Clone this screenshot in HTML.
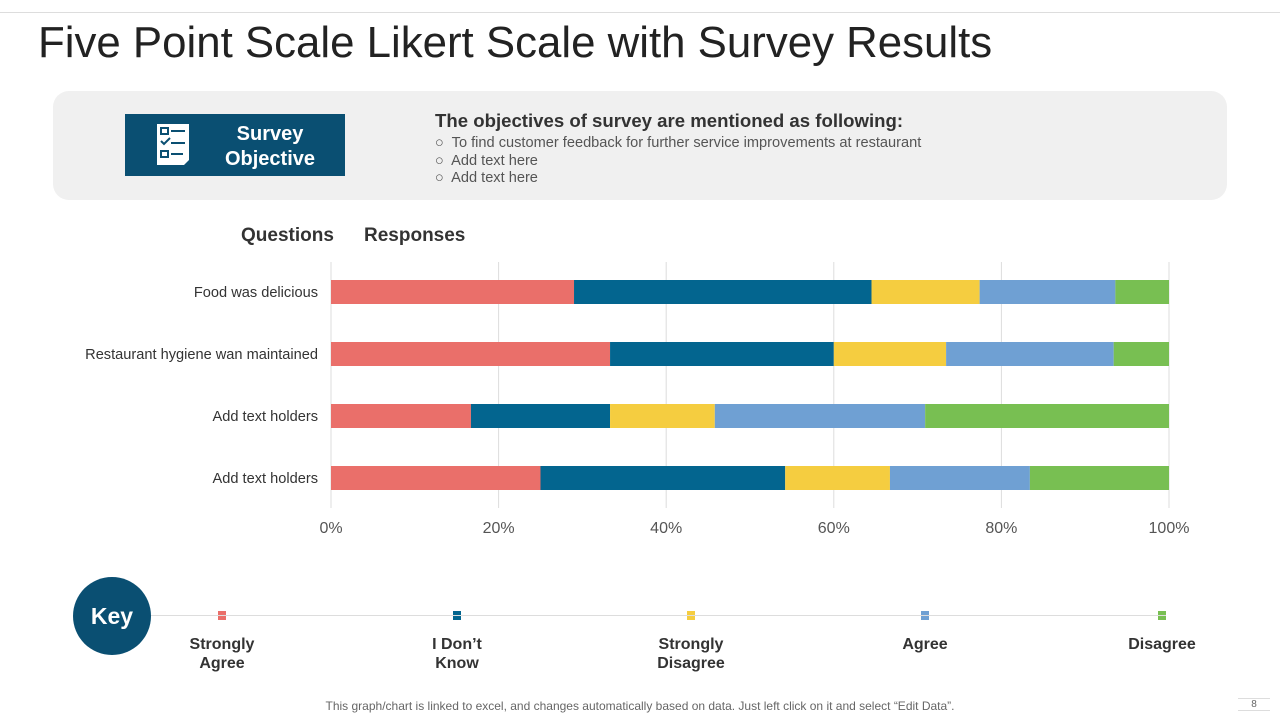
<!DOCTYPE html>
<html><head><meta charset="utf-8"><style>
body{margin:0;width:1280px;height:720px;background:#fff;font-family:"Liberation Sans",sans-serif;position:relative;overflow:hidden}
.abs{position:absolute}
</style></head><body>
<div class="abs" style="left:0;top:12px;width:1280px;height:1px;background:#ddd"></div>
<div class="abs" style="left:38px;top:18px;font-size:43.8px;color:#222;white-space:nowrap">Five Point Scale Likert Scale with Survey Results</div>
<div class="abs" style="left:53px;top:91px;width:1174px;height:109px;background:#f0f0f0;border-radius:16px"></div>
<div class="abs" style="left:125px;top:114px;width:220px;height:62px;background:#0a4f72">
<svg class="abs" style="left:32px;top:10px" width="34" height="42" viewBox="0 0 34 42"><path d="M0 0H32V36L27 41H0Z" fill="#fff"/><g fill="none" stroke="#0a4f72" stroke-width="2"><rect x="4" y="4" width="7" height="6"/><line x1="14" y1="7" x2="28" y2="7"/><path d="M4 17l3 3 6-6"/><line x1="14" y1="19" x2="28" y2="19"/><rect x="4" y="27" width="7" height="6"/><line x1="14" y1="30" x2="26" y2="30"/></g></svg>
<div class="abs" style="left:90px;top:8px;width:110px;text-align:center;color:#fff;font-weight:bold;font-size:20px;line-height:25px">Survey<br>Objective</div></div>
<div class="abs" style="left:435px;top:110px;font-size:18.6px;font-weight:bold;color:#333;white-space:nowrap">The objectives of survey are mentioned as following:</div>
<div class="abs" style="left:435px;top:135px;font-size:14.6px;color:#555;line-height:17.5px;white-space:nowrap">
<div>○&nbsp; To find customer feedback for further service improvements at restaurant</div><div>○&nbsp; Add text here</div><div>○&nbsp; Add text here</div></div>
<div class="abs" style="left:241px;top:225px;font-size:19px;font-weight:bold;color:#333">Questions</div>
<div class="abs" style="left:364px;top:225px;font-size:19px;font-weight:bold;color:#333">Responses</div>
<svg class="abs" style="left:0;top:0" width="1280" height="720" id="chart"></svg>
<div class="abs" style="left:73px;top:577px;width:78px;height:78px;border-radius:50%;background:#0a4f72;color:#fff;font-weight:bold;font-size:23px;line-height:78px;text-align:center">Key</div>
<div class="abs" style="left:151px;top:615px;width:1015px;height:1px;background:#ddd"></div>
<div class="abs" style="left:0;width:1280px;top:699px;text-align:center;font-size:12px;color:#666">This graph/chart is linked to excel, and changes automatically based on data. Just left click on it and select “Edit Data”.</div>
<div class="abs" style="left:1238px;top:698px;width:32px;text-align:center;font-size:10px;color:#666;border-top:1px solid #ddd;border-bottom:1px solid #ddd">8</div>
<script>
const questions=["Food was delicious","Restaurant hygiene wan maintained","Add text holders","Add text holders"];
const stronglyAgree=[29,33.3,16.7,25];
const dontKnow=[35.5,26.7,16.6,29.2];
const stronglyDisagree=[12.9,13.4,12.5,12.5];
const agree=[16.2,20,25.1,16.7];
const disagree=[6.4,6.6,29.1,16.6];
const tickLabels=["0%","20%","40%","60%","80%","100%"];
const seriesNames=[["Strongly","Agree"],["I Don’t","Know"],["Strongly","Disagree"],["Agree"],["Disagree"]];
const colors=["#ea6f6a","#03658f","#f5cd40","#6fa0d3","#78bf52"];
const series=[stronglyAgree,dontKnow,stronglyDisagree,agree,disagree];
const NS="http://www.w3.org/2000/svg",svg=document.getElementById('chart');
const x=v=>331+v/100*838, y=i=>280+i*62;
function mk(t,a){const e=document.createElementNS(NS,t);for(const k in a)e.setAttribute(k,a[k]);svg.appendChild(e);return e;}
tickLabels.forEach((t,i)=>{const v=i*20;
const g=mk('line',{x1:x(v),x2:x(v),y1:262,y2:508,stroke:'#ddd'});


const tx=mk('text',{x:x(v),y:533,'text-anchor':'middle','font-size':16,fill:'#555'});tx.textContent=t;

});
questions.forEach((q,i)=>{let acc=0;
series.forEach((s,j)=>{const r=mk('rect',{x:x(acc),y:y(i),width:x(acc+s[i])-x(acc),height:24,fill:colors[j]});acc+=s[i];

});
const t=mk('text',{x:318,y:y(i)+17,'text-anchor':'end','font-size':14.6,fill:'#333'});t.textContent=q;

});
const kx=[222,457,691,925,1162];
seriesNames.forEach((words,j)=>{const r=mk('rect',{x:kx[j]-4,y:611,width:8,height:9,fill:colors[j]});


const t=mk('text',{x:kx[j],y:649,'text-anchor':'middle','font-size':16,'font-weight':'bold',fill:'#333'});


words.forEach((w,k)=>{const ts=document.createElementNS(NS,'tspan');ts.setAttribute('x',kx[j]);ts.setAttribute('dy',k?19:0);ts.textContent=w;t.appendChild(ts);});});
</script>
</body></html>
